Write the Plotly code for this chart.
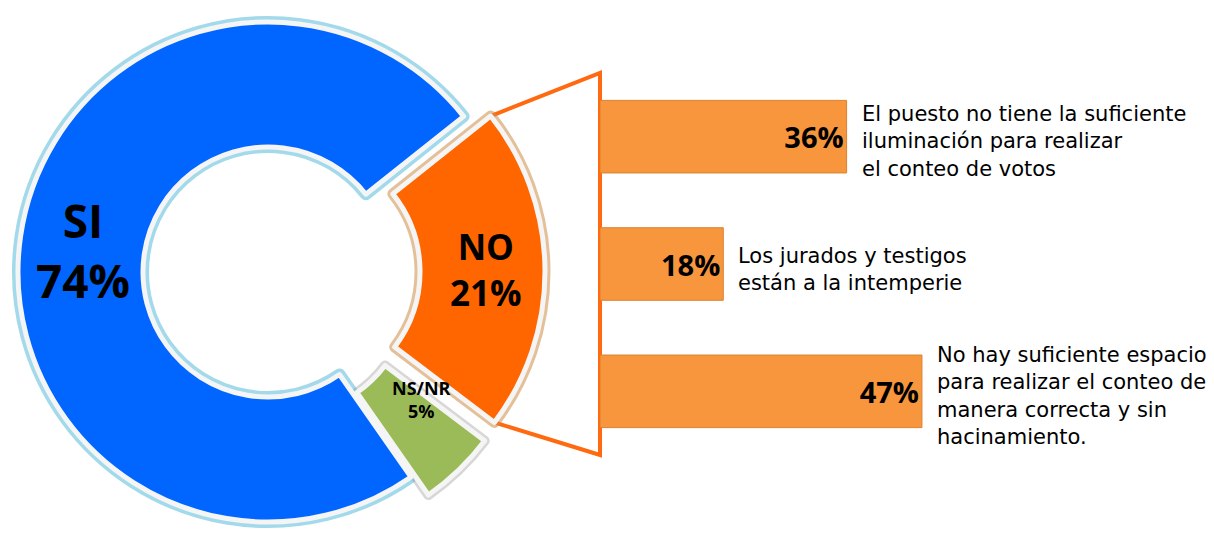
import math
import plotly.graph_objects as go

# ---------------- data ----------------
pie_labels = ["NO", "NS/NR", "SI"]
pie_values = [21, 5, 74]
pie_colors = ["#FF6600", "#9BBB59", "#0066FF"]

reason_labels = [
    "El puesto no tiene la suficiente<br>iluminación para realizar<br>el conteo de votos",
    "Los jurados y testigos<br>están a la intemperie",
    "No hay suficiente espacio<br>para realizar el conteo de<br>manera correcta y sin<br>hacinamiento.",
]
reason_pct = [36, 18, 47]

# ---------------- layout constants (window pixel coords) ----------------
WIN_W, WIN_H = 1214, 533
OFF = 8                          # default body margin of the html page
W, H = WIN_W - OFF, 545          # figure size (bottom few px fall outside the window)
FONT = "Open Sans"
TEXT_FONT = "DejaVu Sans"
PIE_C = (268, 272)               # ring centre
PIE_R = 250                      # outer radius
HOLE = 0.5
ROT = 51.5                       # start angle (clockwise from 12 o'clock)
EXPLODE = {"NO": 27, "NS/NR": 25, "SI": 0}   # explode distance in px along slice bisector
LABEL_SIZE = {"NO": 35, "NS/NR": 18, "SI": 46}
LABEL_SHIFT = {"NO": (4, 0), "NS/NR": (6, 26), "SI": (1, -5)}
BAR_X0 = 600
PX_PER_PCT = 6.85
BAR_TOP, BAR_BOT = 73, 455
TEXT_SIZE = 21
TRANSP = "rgba(0,0,0,0)"
BORDER = "#F5F5F5"


def px(wx):
    return (wx - OFF) / W


def py(wy):
    return 1 - (wy - OFF) / H


# slice angles (math convention, degrees)
total = sum(pie_values)
angles = {}
a = 90 - ROT
for lab, v in zip(pie_labels, pie_values):
    span = 360 * v / total
    angles[lab] = (a, a - span, a - span / 2)
    a -= span


def slice_centre(lab):
    mid = math.radians(angles[lab][2])
    d = EXPLODE[lab]
    return PIE_C[0] + d * math.cos(mid), PIE_C[1] - d * math.sin(mid)


def pie_for(lab, color, line_color, line_width):
    cx, cy = slice_centre(lab)
    idx = pie_labels.index(lab)
    colors = [TRANSP] * len(pie_labels)
    lines = [TRANSP] * len(pie_labels)
    colors[idx] = color
    lines[idx] = line_color
    return go.Pie(
        labels=pie_labels, values=pie_values, sort=False,
        direction="clockwise", rotation=ROT, hole=HOLE,
        domain=dict(x=[px(cx - PIE_R), px(cx + PIE_R)], y=[py(cy + PIE_R), py(cy - PIE_R)]),
        marker=dict(colors=colors, line=dict(color=lines, width=line_width)),
        textinfo="none", hoverinfo="skip", showlegend=False,
    )


fig = go.Figure()

# glows
fig.add_trace(pie_for("SI", pie_colors[2], "rgba(100,192,222,0.6)", 12))
fig.add_trace(pie_for("NS/NR", pie_colors[1], "rgba(140,140,140,0.35)", 10))
fig.add_trace(pie_for("NO", pie_colors[0], "rgba(205,140,70,0.55)", 11))
# slices
fig.add_trace(pie_for("SI", pie_colors[2], BORDER, 5))
fig.add_trace(pie_for("NS/NR", pie_colors[1], BORDER, 5))
fig.add_trace(pie_for("NO", pie_colors[0], BORDER, 5))

# slice labels
r_mid = PIE_R * (1 + HOLE) / 2
for lab, v in zip(pie_labels, pie_values):
    cx, cy = slice_centre(lab)
    mid = math.radians(angles[lab][2])
    tx, ty = cx + r_mid * math.cos(mid), cy - r_mid * math.sin(mid)
    sx, sy = LABEL_SHIFT[lab]
    fig.add_annotation(
        x=px(tx), y=py(ty), xref="paper", yref="paper", showarrow=False,
        text=f"<b>{lab}<br>{v}%</b>", xanchor="center", yanchor="middle",
        xshift=sx, yshift=sy,
        font=dict(family=FONT, size=LABEL_SIZE[lab], color="black"),
    )

# ---------------- bars ----------------
fig.add_trace(go.Bar(
    x=reason_pct, y=list(range(len(reason_pct))), orientation="h",
    width=0.57,
    marker=dict(color="#F7963C", line=dict(color="#DB8230", width=1)),
    text=[f"<b>{v}%</b>" for v in reason_pct], textposition="inside",
    insidetextanchor="end", textangle=0,
    textfont=dict(family=FONT, size=29, color="black"),
    hoverinfo="skip", showlegend=False,
))

for i, (lab, v) in enumerate(zip(reason_labels, reason_pct)):
    fig.add_annotation(
        x=v, y=i, xref="x", yref="y", text=lab, showarrow=False,
        xanchor="left", yanchor="middle", align="left", xshift=13, yshift=-5,
        font=dict(family=TEXT_FONT, size=TEXT_SIZE, color="black"),
    )

# ---------------- connector (from NO slice to the bar block) ----------------
ncx, ncy = slice_centre("NO")
a0, a1, _ = angles["NO"]
p1 = (ncx + PIE_R * math.cos(math.radians(a0)), ncy - PIE_R * math.sin(math.radians(a0)))
p4 = (ncx + PIE_R * math.cos(math.radians(a1)), ncy - PIE_R * math.sin(math.radians(a1)))
pts = [p1, (BAR_X0, BAR_TOP), (BAR_X0, BAR_BOT), p4]
path = "M " + " L ".join(f"{px(x):.5f},{py(y):.5f}" for x, y in pts) + " Z"
fig.add_shape(type="path", path=path, xref="paper", yref="paper",
              line=dict(color="#FF6A10", width=4), fillcolor="white", layer="below")

fig.update_layout(
    width=W, height=H, margin=dict(l=0, r=0, t=0, b=0),
    paper_bgcolor="white", plot_bgcolor="rgba(0,0,0,0)",
    xaxis=dict(domain=[px(BAR_X0), 1], range=[0, (WIN_W - BAR_X0) / PX_PER_PCT],
               visible=False, fixedrange=True),
    yaxis=dict(domain=[py(BAR_BOT), py(BAR_TOP)], range=[2.5, -0.5],
               visible=False, fixedrange=True),
    bargap=0.43,
)

fig.write_html("out.html")
